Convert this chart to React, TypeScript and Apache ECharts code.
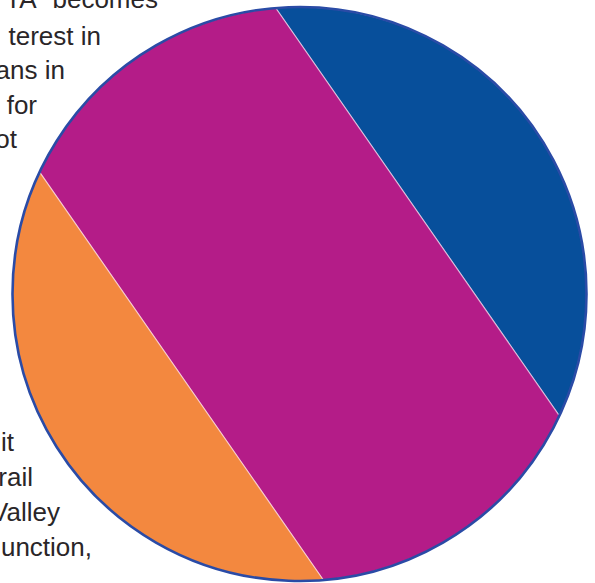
import React, { useEffect, useRef } from "react";
import * as echarts from "echarts";

// Segment data (share of the circle, percent), ordered from the upper-right band
const segmentNames = ["Segment A", "Segment B", "Segment C"];
const segmentValues = [19.5, 61, 19.5];
const segmentColors = ["#074f9b", "#b41c88", "#f3883f"];

// Background body text partly covered by the chart (visible fragments)
const topLines = ["TA” becomes", "terest in", "ans in", "for", "ot"];
const bottomLines = ["it", "rail", "Valley", "unction,"];

export default function App() {
  const ref = useRef<HTMLDivElement>(null);

  useEffect(() => {
    if (!ref.current) return;
    const chart = echarts.init(ref.current, null, { renderer: "svg" });

    const cx = 299.5;
    const cy = 294;
    const R = 287;
    // normal of the parallel cuts (pointing to the first band), and chord direction
    const nx = 0.821, ny = -0.571;
    const mx = 0.571, my = 0.821;

    const total = segmentValues.reduce((a, b) => a + b, 0);
    const cum: number[] = [0];
    segmentValues.forEach((v, i) => cum.push(cum[i] + v / total));

    // fraction of circle area beyond signed distance x (in units of R)
    const fracBeyond = (x: number) =>
      (Math.acos(x) - x * Math.sqrt(Math.max(0, 1 - x * x))) / Math.PI;
    const distForFrac = (f: number) => {
      if (f <= 0) return 1;
      if (f >= 1) return -1;
      let lo = -1, hi = 1;
      for (let k = 0; k < 60; k++) {
        const mid = (lo + hi) / 2;
        if (fracBeyond(mid) > f) lo = mid;
        else hi = mid;
      }
      return (lo + hi) / 2;
    };

    const pt = (phi: number) => [
      cx + R * (Math.cos(phi) * nx + Math.sin(phi) * mx),
      cy + R * (Math.cos(phi) * ny + Math.sin(phi) * my),
    ];

    const topRight = [158, 101, 65, 37, 17];
    const topY = [-1, 36, 70, 105, 139];
    const botRight = [14, 33, 60, 92];
    const botY = [442, 477, 512, 547];
    const textEl = (t: string, x: number, y: number) => ({
      type: "text",
      x,
      y,
      z: 0,
      style: {
        text: t,
        font: '26px "Liberation Sans", Arial, sans-serif',
        fill: "#2a2628",
        align: "right",
        verticalAlign: "middle",
      },
    });
    const texts: any[] = [];
    topLines.forEach((t, i) => texts.push(textEl(t, topRight[i], topY[i])));
    bottomLines.forEach((t, i) => texts.push(textEl(t, botRight[i], botY[i])));

    chart.setOption({
      animation: false,
      graphic: { elements: texts },
      series: [
        {
          type: "custom",
          coordinateSystem: "none",
          z: 10,
          data: segmentValues.map((v, i) => ({ name: segmentNames[i], value: v })),
          renderItem: (params: any) => {
            const i = params.dataIndex;
            const ts = distForFrac(cum[i]);
            const te = distForFrac(cum[i + 1]);
            const as = Math.acos(ts);
            const ae = Math.acos(te);
            const N = 90;
            const pts: number[][] = [];
            for (let k = 0; k <= N; k++) pts.push(pt(as + ((ae - as) * k) / N));
            for (let k = 0; k <= N; k++) pts.push(pt(-ae + ((ae - as) * k) / N));
            const children: any[] = [
              {
                type: "polygon",
                shape: { points: pts },
                style: {
                  fill: segmentColors[i],
                  stroke: "rgba(255,235,245,0.55)",
                  lineWidth: 1.2,
                },
              },
            ];
            if (i === segmentValues.length - 1) {
              children.push({
                type: "circle",
                shape: { cx, cy, r: R },
                z2: 100,
                style: { fill: "none", stroke: "#2a4ba6", lineWidth: 2.6 },
              });
            }
            return { type: "group", children };
          },
        },
      ],
    });

    return () => chart.dispose();
  }, []);

  return (
    <div
      ref={ref}
      style={{ position: "fixed", left: 0, top: 0, width: 595, height: 583, background: "#fff" }}
    />
  );
}
